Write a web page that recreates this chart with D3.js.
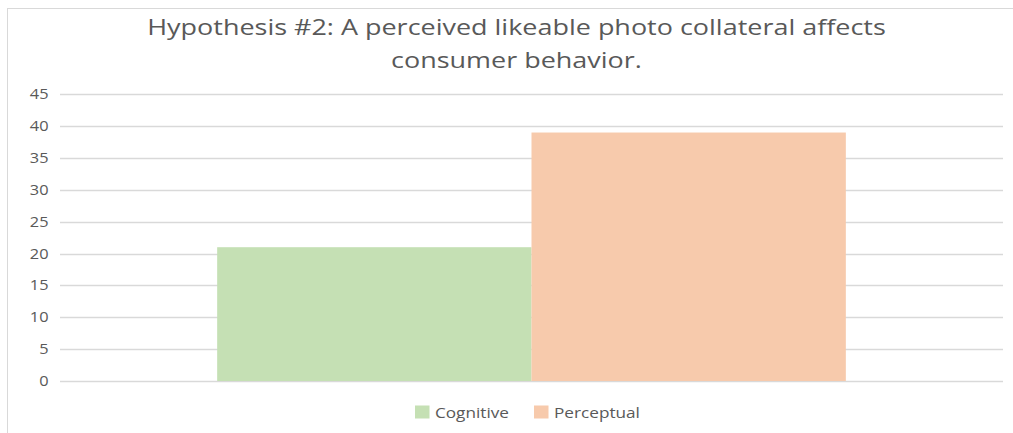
<!DOCTYPE html>
<html>
<head>
<meta charset="utf-8">
<script src="https://cdn.jsdelivr.net/npm/d3@7"></script>
<style>
  html, body { margin: 0; padding: 0; background: #fff; }
  svg { display: block; font-family: "Open Sans", "Noto Sans", sans-serif; }
</style>
</head>
<body>
<svg id="chart" width="1013" height="433"></svg>
<script>
const titleLines = ["Hypothesis #2: A perceived likeable photo collateral affects", "consumer behavior."];
const seriesNames = ["Cognitive", "Perceptual"];
const seriesValues = [21, 39];
const seriesColors = ["#C5E0B4", "#F7CAAC"];
const yTicks = [0, 5, 10, 15, 20, 25, 30, 35, 40, 45];

const svg = d3.select("#chart");
const W = 1013, H = 433;
const plot = { left: 60, right: 1003, top: 94.3, bottom: 381 };

// place a text at (x, y) and stretch it horizontally to a target width
function stretchText(g, str, x, y, size, anchor, target) {
  const gg = g.append("g");
  const t = gg.append("text").attr("x", 0).attr("y", 0)
    .attr("text-anchor", anchor).attr("fill", "#595959")
    .style("font-size", size + "px").text(str);
  const len = t.node().getComputedTextLength();
  const sx = target ? target / len : 1;
  gg.attr("transform", `translate(${x},${y}) scale(${sx.toFixed(4)},1)`);
  return t;
}

// chart border (extends beyond right/bottom edge)
svg.append("rect")
  .attr("x", 7.5).attr("y", 8.5)
  .attr("width", W + 10).attr("height", H + 10)
  .attr("fill", "none").attr("stroke", "#D9D9D9").attr("stroke-width", 1);

const y = d3.scaleLinear().domain([0, 45]).range([plot.bottom, plot.top]);
const x = d3.scaleBand().domain(seriesNames).range([plot.left, plot.right])
  .paddingInner(0).paddingOuter(0.5);

// gridlines
svg.append("g").selectAll("line").data(yTicks).join("line")
  .attr("x1", plot.left).attr("x2", plot.right)
  .attr("y1", d => Math.round(y(d)) + 0.5).attr("y2", d => Math.round(y(d)) + 0.5)
  .attr("stroke", "#D9D9D9").attr("stroke-width", 1.3);

// y axis labels
const yAxis = d3.axisLeft(y).tickValues(yTicks).tickSize(0).tickPadding(0);
const ya = svg.append("g").attr("transform", `translate(${48.5},0)`).call(yAxis);
ya.select(".domain").remove();
ya.selectAll(".tick text").attr("fill", "#595959").style("font-size", "14px")
  .style("font-family", "'Open Sans', sans-serif")
  .attr("transform", "scale(1.17,1)");

// bars
svg.append("g").selectAll("rect").data(seriesNames).join("rect")
  .attr("x", d => x(d))
  .attr("width", x.bandwidth())
  .attr("y", (d, i) => y(seriesValues[i]))
  .attr("height", (d, i) => y(0) - y(seriesValues[i]))
  .attr("fill", (d, i) => seriesColors[i]);

// title
const title = svg.append("g");
const baselines = [34.5, 67.5];
const titleWidths = [739, 251];
titleLines.forEach((t, i) => {
  stretchText(title, t, 516.5, baselines[i], 21, "middle", titleWidths[i]);
});

// legend
const legendItems = [
  { name: seriesNames[0], color: seriesColors[0], sx: 415, tx: 435, w: 74 },
  { name: seriesNames[1], color: seriesColors[1], sx: 534, tx: 554, w: 86 }
];
const lg = svg.append("g");
legendItems.forEach(it => {
  lg.append("rect").attr("x", it.sx).attr("y", 405.5).attr("width", 14.5).attr("height", 13)
    .attr("fill", it.color);
  stretchText(lg, it.name, it.tx, 418, 14.5, "start", it.w);
});
</script>
</body>
</html>
